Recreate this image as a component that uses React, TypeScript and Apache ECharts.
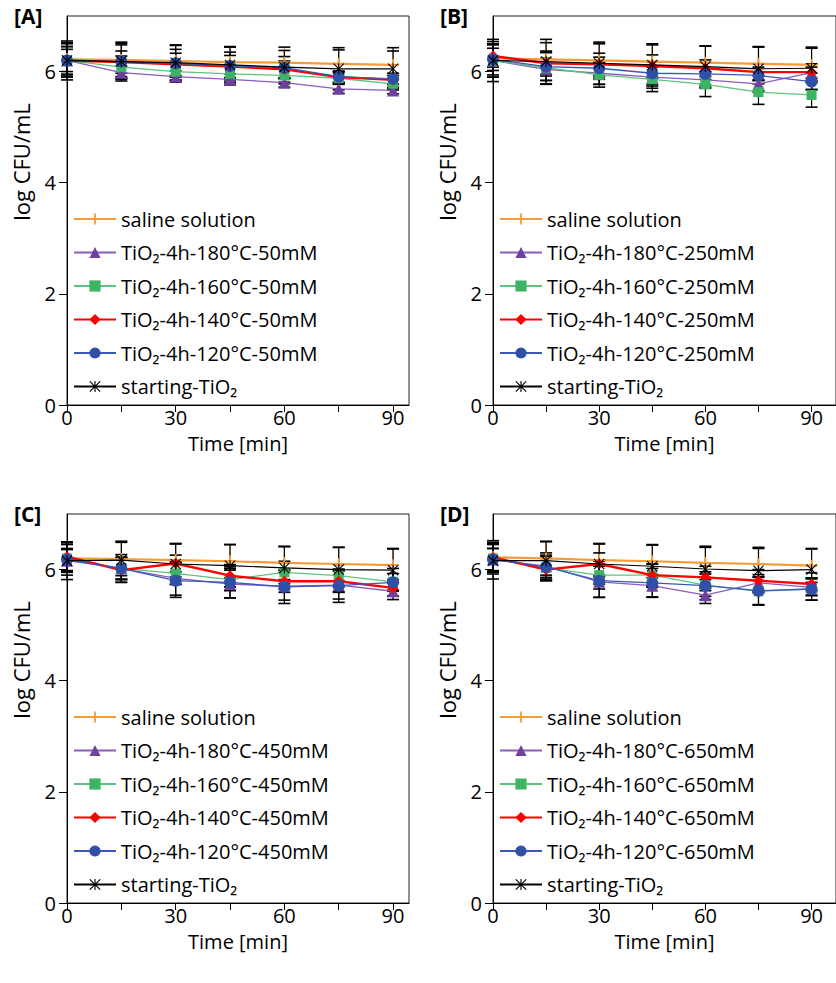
import React, { useEffect, useRef } from 'react';
import * as echarts from 'echarts';

const time = [0, 15, 30, 45, 60, 75, 90];
const xTickValues = [0, 15, 30, 45, 60, 75, 90];
const xLabelValues = [0, 30, 60, 90];
const yValues = [0, 2, 4, 6];
const panelLabels = ['[A]', '[B]', '[C]', '[D]'];
const concentrations = ['50mM', '250mM', '450mM', '650mM'];
const yTitle = 'log CFU/mL';
const xTitle = 'Time [min]';

// Panel A (50 mM)
const A_saline = [6.22, 6.21, 6.19, 6.17, 6.16, 6.14, 6.12];
const A_180 = [6.2, 5.98, 5.91, 5.86, 5.8, 5.69, 5.66];
const A_160 = [6.2, 6.08, 6.0, 5.96, 5.93, 5.88, 5.78];
const A_140 = [6.2, 6.17, 6.13, 6.09, 6.04, 5.9, 5.85];
const A_120 = [6.2, 6.18, 6.15, 6.1, 6.07, 5.91, 5.87];
const A_start = [6.2, 6.18, 6.16, 6.12, 6.08, 6.05, 6.05];
const A_saline_err = [0.3, 0.3, 0.28, 0.28, 0.28, 0.25, 0.25];
const A_180_err = [0.3, 0.12, 0.1, 0.1, 0.08, 0.08, 0.06];
const A_160_err = [0.25, 0.2, 0.15, 0.15, 0.12, 0.1, 0.08];
const A_140_err = [0.2, 0.2, 0.2, 0.2, 0.15, 0.1, 0.08];
const A_120_err = [0.25, 0.3, 0.25, 0.25, 0.2, 0.1, 0.1];
const A_start_err = [0.35, 0.35, 0.32, 0.32, 0.3, 0.38, 0.38];

// Panel B (250 mM)
const B_saline = [6.24, 6.22, 6.2, 6.18, 6.16, 6.14, 6.12];
const B_180 = [6.2, 6.04, 5.97, 5.9, 5.85, 5.78, 5.98];
const B_160 = [6.2, 6.07, 5.94, 5.86, 5.77, 5.63, 5.58];
const B_140 = [6.28, 6.15, 6.13, 6.1, 6.06, 5.99, 5.99];
const B_120 = [6.22, 6.09, 6.06, 5.97, 5.96, 5.93, 5.82];
const B_start = [6.2, 6.18, 6.15, 6.12, 6.09, 6.05, 6.06];
const B_saline_err = [0.3, 0.3, 0.3, 0.3, 0.3, 0.3, 0.3];
const B_180_err = [0.3, 0.2, 0.2, 0.2, 0.15, 0.15, 0.1];
const B_160_err = [0.3, 0.3, 0.22, 0.22, 0.22, 0.22, 0.22];
const B_140_err = [0.2, 0.2, 0.2, 0.2, 0.15, 0.15, 0.15];
const B_120_err = [0.2, 0.25, 0.2, 0.2, 0.2, 0.15, 0.15];
const B_start_err = [0.38, 0.4, 0.38, 0.38, 0.37, 0.4, 0.38];

// Panel C (450 mM)
const C_saline = [6.2, 6.19, 6.17, 6.15, 6.12, 6.1, 6.08];
const C_180 = [6.16, 6.02, 5.84, 5.74, 5.7, 5.72, 5.61];
const C_160 = [6.2, 6.02, 5.93, 5.82, 5.95, 5.89, 5.78];
const C_140 = [6.23, 5.99, 6.11, 5.89, 5.79, 5.79, 5.67];
const C_120 = [6.18, 6.02, 5.8, 5.77, 5.69, 5.71, 5.77];
const C_start = [6.16, 6.17, 6.1, 6.07, 6.03, 6.0, 5.99];
const C_saline_err = [0.3, 0.3, 0.3, 0.3, 0.3, 0.3, 0.3];
const C_180_err = [0.2, 0.2, 0.3, 0.25, 0.25, 0.25, 0.15];
const C_160_err = [0.25, 0.2, 0.2, 0.2, 0.2, 0.2, 0.15];
const C_140_err = [0.25, 0.22, 0.15, 0.2, 0.2, 0.2, 0.15];
const C_120_err = [0.2, 0.25, 0.3, 0.28, 0.3, 0.3, 0.25];
const C_start_err = [0.34, 0.34, 0.36, 0.38, 0.38, 0.4, 0.38];

// Panel D (650 mM)
const D_saline = [6.22, 6.2, 6.17, 6.15, 6.12, 6.1, 6.07];
const D_180 = [6.18, 6.06, 5.78, 5.71, 5.54, 5.76, 5.68];
const D_160 = [6.2, 6.03, 5.9, 5.9, 5.72, 5.61, 5.65];
const D_140 = [6.22, 6.0, 6.1, 5.9, 5.86, 5.8, 5.74];
const D_120 = [6.18, 6.05, 5.8, 5.76, 5.71, 5.62, 5.65];
const D_start = [6.16, 6.16, 6.1, 6.06, 6.01, 5.98, 6.0];
const D_saline_err = [0.3, 0.3, 0.3, 0.3, 0.3, 0.3, 0.3];
const D_180_err = [0.2, 0.2, 0.28, 0.2, 0.15, 0.15, 0.15];
const D_160_err = [0.25, 0.2, 0.25, 0.2, 0.2, 0.25, 0.2];
const D_140_err = [0.25, 0.2, 0.2, 0.2, 0.2, 0.2, 0.2];
const D_120_err = [0.2, 0.25, 0.3, 0.26, 0.25, 0.25, 0.2];
const D_start_err = [0.33, 0.35, 0.36, 0.38, 0.39, 0.4, 0.38];

const panelValues = [
  [A_saline, A_180, A_160, A_140, A_120, A_start],
  [B_saline, B_180, B_160, B_140, B_120, B_start],
  [C_saline, C_180, C_160, C_140, C_120, C_start],
  [D_saline, D_180, D_160, D_140, D_120, D_start],
];
const panelErrors = [
  [A_saline_err, A_180_err, A_160_err, A_140_err, A_120_err, A_start_err],
  [B_saline_err, B_180_err, B_160_err, B_140_err, B_120_err, B_start_err],
  [C_saline_err, C_180_err, C_160_err, C_140_err, C_120_err, C_start_err],
  [D_saline_err, D_180_err, D_160_err, D_140_err, D_120_err, D_start_err],
];

const temps = ['180', '160', '140', '120'];

const PLUS = 'path://M4.2,0 H5.8 V4.2 H10 V5.8 H5.8 V10 H4.2 V5.8 H0 V4.2 H4.2 Z';
const STAR =
  'path://M9,0 H11 V20 H9 Z M1.4,0 L20,18.6 L18.6,20 L0,1.4 Z M18.6,0 L20,1.4 L1.4,20 L0,18.6 Z';

const styles = [
  { color: '#F59B38', line: '#F59B38', width: 2.2, symbol: PLUS, size: 12, stem: '#F59B38' },
  { color: '#7040A0', line: '#8A5CBC', width: 1.3, symbol: 'triangle', size: 12, stem: '#000' },
  { color: '#3DB463', line: '#5CC47C', width: 1.3, symbol: 'rect', size: 10, stem: '#000' },
  { color: '#FF0000', line: '#FF0000', width: 2.4, symbol: 'diamond', size: 11, stem: '#000' },
  { color: '#3050A8', line: '#3A58B8', width: 1.3, symbol: 'circle', size: 12, stem: '#000' },
  { color: '#000000', line: '#000000', width: 1.2, symbol: STAR, size: 11, stem: '#000' },
];

const FONT = "'Open Sans', 'Noto Sans', sans-serif";

const grids = [
  { left: 67, top: 16, width: 342, height: 389, max: 94.4 },
  { left: 493, top: 16, width: 352, height: 389, max: 96.9 },
  { left: 67, top: 514, width: 342, height: 389, max: 94.4 },
  { left: 493, top: 514, width: 352, height: 389, max: 96.9 },
];

function namesFor(p: number) {
  return [
    'saline solution',
    ...temps.map((t) => `TiO₂-4h-${t}°C-${concentrations[p]}`),
    'starting-TiO₂',
  ];
}

export default function App() {
  const ref = useRef<HTMLDivElement>(null);
  useEffect(() => {
    if (!ref.current) return;
    const chart = echarts.init(ref.current, null, { renderer: 'svg' });
    const series: any[] = [];
    const legends: any[] = [];
    const xAxes: any[] = [];
    const yAxes: any[] = [];
    const graphics: any[] = [];
    grids.forEach((g, p) => {
      const names = namesFor(p);
      xAxes.push({
        type: 'value',
        gridIndex: p,
        min: 0,
        max: g.max,
        name: xTitle,
        nameLocation: 'middle',
        nameGap: 28,
        nameTextStyle: { fontSize: 20, lineHeight: 20, color: '#000', fontFamily: FONT },
        axisLine: { onZero: false, lineStyle: { color: '#000', width: 1 } },
        axisTick: { show: true, customValues: xTickValues, length: 7, lineStyle: { color: '#000' } },
        axisLabel: {
          customValues: xLabelValues,
          fontSize: 20,
          lineHeight: 20,
          color: '#000',
          fontFamily: FONT,
          margin: 2,
        },
        splitLine: { show: false },
      });
      yAxes.push({
        type: 'value',
        gridIndex: p,
        min: 0,
        max: 7,
        axisLine: { show: true, lineStyle: { color: '#000', width: 1 } },
        axisTick: { show: true, customValues: yValues, length: 8, lineStyle: { color: '#000' } },
        axisLabel: {
          customValues: yValues,
          fontSize: 20,
          color: '#000',
          fontFamily: FONT,
          margin: 11,
        },
        splitLine: { show: false },
      });
      legends.push({
        orient: 'vertical',
        left: g.left + 1,
        top: g.top + 187,
        itemWidth: 42,
        itemHeight: 14,
        itemGap: 11.5,
        textStyle: { fontSize: 20, color: '#000', fontFamily: FONT, lineHeight: 22 },
        data: names,
        selectedMode: false,
      });
      graphics.push({
        type: 'text',
        left: g.left - 53,
        top: g.top - 11,
        style: {
          text: panelLabels[p],
          font: `bold 21px ${FONT}`,
          fill: '#000',
        },
      });
      graphics.push({
        type: 'text',
        x: g.left - 46,
        y: g.top + 146,
        rotation: Math.PI / 2,
        style: {
          text: yTitle,
          font: `22px ${FONT}`,
          fill: '#000',
          align: 'center',
          verticalAlign: 'middle',
        },
      });
      panelValues[p].forEach((vals, s) => {
        const st = styles[s];
        const errs = panelErrors[p][s];
        series.push({
          type: 'custom',
          name: `err-${p}-${s}`,
          xAxisIndex: p,
          yAxisIndex: p,
          z: 1,
          silent: true,
          data: time.map((t, i) => [t, vals[i], errs[i]]),
          encode: { x: 0, y: 1 },
          renderItem: (params: any, api: any) => {
            const x = api.value(0);
            const y = api.value(1);
            const e = api.value(2);
            const top = api.coord([x, y + e]);
            const bot = api.coord([x, y - e]);
            const hw = 6;
            return {
              type: 'group',
              children: [
                {
                  type: 'line',
                  shape: { x1: top[0], y1: top[1], x2: bot[0], y2: bot[1] },
                  style: { stroke: st.stem, lineWidth: 1.2 },
                },
                {
                  type: 'line',
                  shape: { x1: top[0] - hw, y1: top[1], x2: top[0] + hw, y2: top[1] },
                  style: { stroke: '#000', lineWidth: 1.6 },
                },
                {
                  type: 'line',
                  shape: { x1: bot[0] - hw, y1: bot[1], x2: bot[0] + hw, y2: bot[1] },
                  style: { stroke: '#000', lineWidth: 1.6 },
                },
              ],
            };
          },
        });
        series.push({
          type: 'line',
          name: names[s],
          xAxisIndex: p,
          yAxisIndex: p,
          z: 2 + s,
          data: time.map((t, i) => [t, vals[i]]),
          symbol: st.symbol,
          symbolSize: st.size,
          showAllSymbol: true,
          lineStyle: { color: st.line, width: st.width },
          itemStyle: { color: st.color },
        });
      });
    });

    chart.setOption({
      animation: false,
      backgroundColor: '#fff',
      grid: grids.map((g) => ({
        left: g.left,
        top: g.top,
        width: g.width,
        height: g.height,
        show: true,
        borderColor: '#222',
        borderWidth: 1,
        backgroundColor: 'transparent',
        containLabel: false,
      })),
      xAxis: xAxes,
      yAxis: yAxes,
      legend: legends,
      graphic: graphics,
      series,
    });
    return () => chart.dispose();
  }, []);
  return (
    <div
      ref={ref}
      style={{ position: 'absolute', left: 0, top: 0, width: 836, height: 983, background: '#fff' }}
    />
  );
}
